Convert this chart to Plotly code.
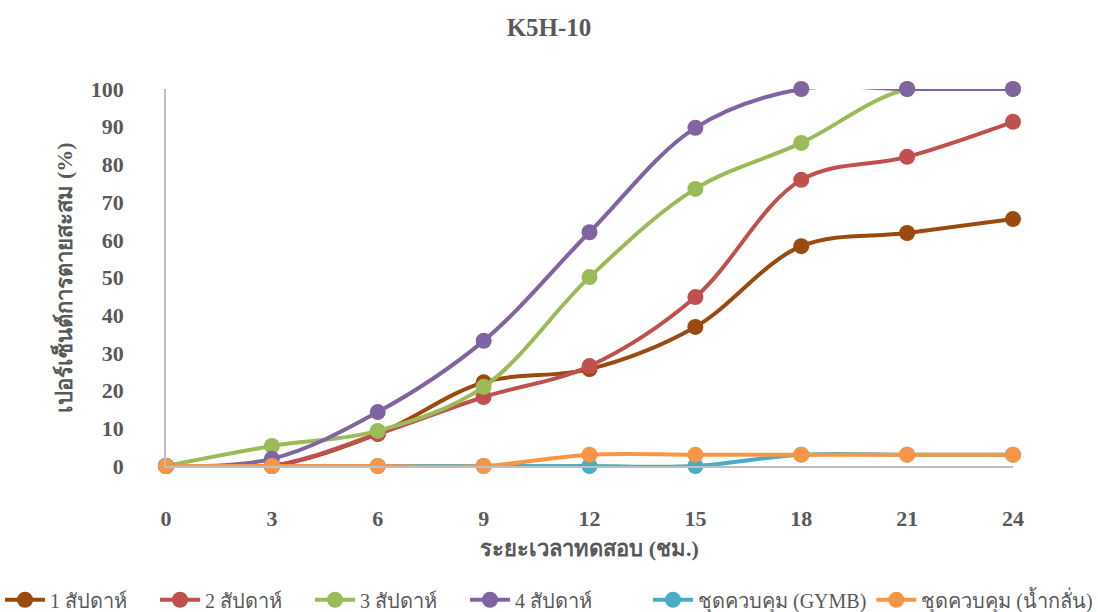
import plotly.graph_objects as go

hours = [0, 3, 6, 9, 12, 15, 18, 21, 24]
week1 = [0, 0, 8.5, 22.2, 25.7, 36.9, 58.3, 61.8, 65.5]
week2 = [0, 0, 8.5, 18.3, 26.5, 44.8, 75.9, 82.0, 91.3]
week3 = [0, 5.3, 9.3, 21.0, 50.1, 73.5, 85.7, 100, 100]
week4 = [0, 1.9, 14.3, 33.2, 62.0, 89.7, 100, 100, 100]
ctrl_gymb = [0, 0, 0, 0, 0, 0, 3, 3, 3]
ctrl_water = [0, 0, 0, 0, 3, 3, 3, 3, 3]

names = ["1 สัปดาห์", "2 สัปดาห์", "3 สัปดาห์", "4 สัปดาห์", "ชุดควบคุม (GYMB)", "ชุดควบคุม (น้ำกลั่น)"]
series = [week1, week2, week3, week4, ctrl_gymb, ctrl_water]
colors = ["#9A4A0D", "#C0504D", "#9BBB59", "#8064A2", "#4BACC6", "#F79646"]
legend_ids = ["legend", "legend", "legend", "legend", "legend2", "legend2"]

fig = go.Figure()
for n, s, c, lg in zip(names, series, colors, legend_ids):
    fig.add_trace(go.Scatter(
        x=hours, y=s, name=n, mode="lines+markers",
        line=dict(color=c, width=4, shape="spline", smoothing=1.0),
        marker=dict(color=c, size=16),
        cliponaxis=False, legend=lg,
    ))

font_serif = "Liberation Serif, Times New Roman, serif"
grey = "#595959"
leg_common = dict(orientation="h", xref="container", yref="container",
                  y=0.02, yanchor="middle",
                  font=dict(family=font_serif, size=20, color=grey),
                  itemwidth=40, tracegroupgap=0, bgcolor="rgba(0,0,0,0)")
fig.update_layout(
    width=1098, height=612,
    paper_bgcolor="white", plot_bgcolor="white",
    margin=dict(l=166, r=85, t=89, b=146, autoexpand=False),
    title=dict(text="<b>K5H-10</b>", x=0.5, xanchor="center", y=0.955, yanchor="middle",
               font=dict(family=font_serif, size=25, color=grey)),
    xaxis=dict(
        range=[0, 24], tickvals=hours, ticktext=[f"<b>{h}</b>" for h in hours],
        showline=True, linecolor="#BFBFBF", linewidth=1.5, showgrid=False, zeroline=False,
        ticks="outside", ticklen=32, tickcolor="rgba(0,0,0,0)", automargin=False,
        tickfont=dict(family=font_serif, size=22, color=grey),
        title=dict(text="<b>ระยะเวลาทดสอบ (ชม.)</b>", standoff=10,
                   font=dict(family=font_serif, size=22, color=grey)),
    ),
    yaxis=dict(
        range=[0, 100], tickvals=list(range(0, 101, 10)),
        ticktext=[f"<b>{v}</b>" for v in range(0, 101, 10)],
        showline=True, linecolor="#BFBFBF", linewidth=1.5, showgrid=False, zeroline=False,
        ticks="outside", ticklen=36, tickcolor="rgba(0,0,0,0)", automargin=False,
        tickfont=dict(family=font_serif, size=22, color=grey),
        title=dict(text="<b>เปอร์เซ็นต์การตายสะสม (%)</b>", standoff=12,
                   font=dict(family=font_serif, size=22, color=grey)),
    ),
    legend=dict(x=0.0, xanchor="left", entrywidth=100, **leg_common),
    legend2=dict(x=1.0, xanchor="right", **leg_common),
    showlegend=True,
)
fig.write_html("out.html")
